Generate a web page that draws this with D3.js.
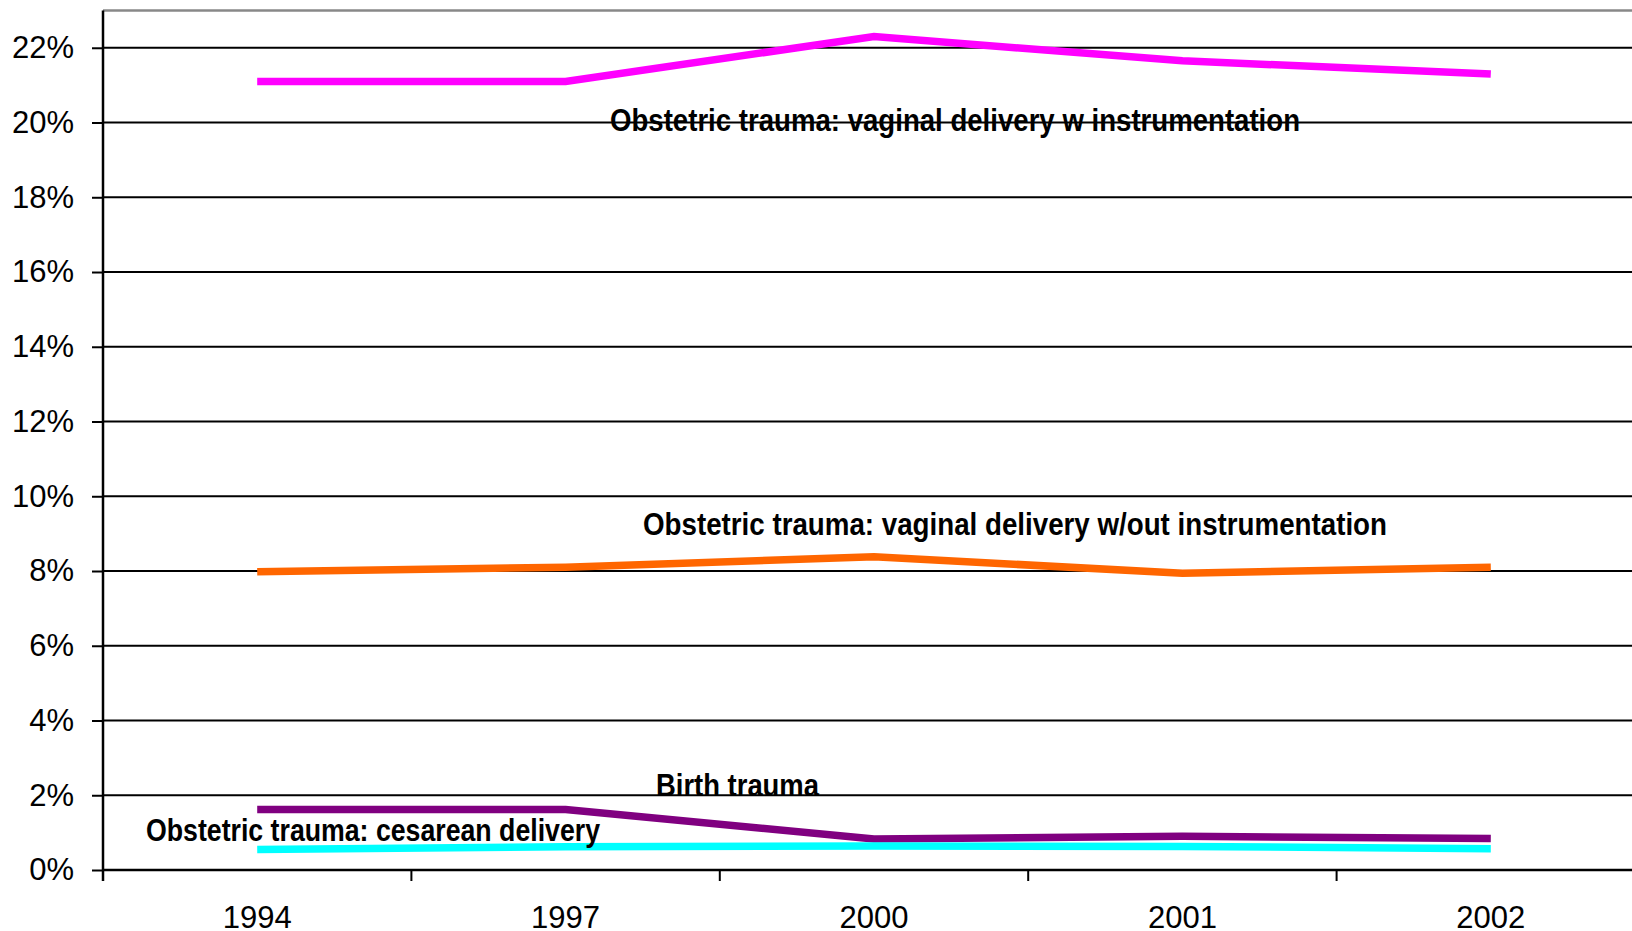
<!DOCTYPE html>
<html>
<head>
<meta charset="utf-8">
<script src="https://cdn.jsdelivr.net/npm/d3@7"></script>
<style>
  html, body { margin: 0; padding: 0; background: #fff; }
  svg { display: block; }
</style>
</head>
<body>
<script>
// Years on the category axis
const years = ["1994", "1997", "2000", "2001", "2002"];

// Rates (%) per series
const vaginalWithInstr = [21.1, 21.1, 22.3, 21.65, 21.3];
const vaginalWithoutInstr = [7.98, 8.1, 8.38, 7.94, 8.1];
const birthTrauma = [1.62, 1.62, 0.83, 0.90, 0.84];
const cesarean = [0.55, 0.62, 0.64, 0.63, 0.57];

// Y tick values (%)
const yTicks = [0, 2, 4, 6, 8, 10, 12, 14, 16, 18, 20, 22];

// Series names as labelled on the chart
const seriesNames = [
  "Obstetric trauma: vaginal delivery w instrumentation",
  "Obstetric trauma: vaginal delivery w/out instrumentation",
  "Birth trauma",
  "Obstetric trauma: cesarean delivery"
];
const seriesColors = ["#ff00ff", "#ff6600", "#800080", "#00ffff"];

const W = 1632, H = 931;
const plotLeft = 103, plotTop = 10.4, plotBottom = 870;
const band = 308.4;

const svg = d3.select("body").append("svg")
  .attr("width", W).attr("height", H)
  .style("font-family", "'Liberation Sans', Arial, sans-serif");

const x = d3.scaleBand().domain(years).range([plotLeft, plotLeft + band * years.length]).padding(0);
const y = d3.scaleLinear().domain([0, 23]).range([plotBottom, plotTop]);
const cx = d => x(d) + x.bandwidth() / 2;

// Horizontal gridlines
svg.append("g").selectAll("line")
  .data(yTicks.filter(t => t > 0))
  .join("line")
  .attr("x1", plotLeft).attr("x2", x.range()[1])
  .attr("y1", d => y(d)).attr("y2", d => y(d))
  .attr("stroke", "#000").attr("stroke-width", 2);

// Plot-area top border
svg.append("line")
  .attr("x1", plotLeft).attr("x2", x.range()[1])
  .attr("y1", y(23)).attr("y2", y(23))
  .attr("stroke", "#888").attr("stroke-width", 2.5);

// Y axis
const yAxis = d3.axisLeft(y).tickValues(yTicks)
  .tickFormat(d => d + "%").tickSize(11).tickPadding(18);
const gy = svg.append("g").attr("transform", `translate(${plotLeft},0)`).call(yAxis);
gy.select(".domain").remove();
gy.selectAll(".tick line").attr("stroke", "#000").attr("stroke-width", 2);
gy.selectAll(".tick text")
  .attr("fill", "#000").attr("font-size", 31)
  .attr("font-family", "'Liberation Sans', Arial, sans-serif");
svg.append("line")
  .attr("x1", plotLeft).attr("x2", plotLeft)
  .attr("y1", y(23)).attr("y2", plotBottom + 11)
  .attr("stroke", "#000").attr("stroke-width", 2.5);

// X axis line with tick marks at category boundaries
svg.append("line")
  .attr("x1", plotLeft).attr("x2", x.range()[1])
  .attr("y1", plotBottom).attr("y2", plotBottom)
  .attr("stroke", "#000").attr("stroke-width", 2.5);
svg.append("g").selectAll("line")
  .data(years.slice(1))
  .join("line")
  .attr("x1", d => x(d)).attr("x2", d => x(d))
  .attr("y1", plotBottom).attr("y2", plotBottom + 11)
  .attr("stroke", "#000").attr("stroke-width", 2);
svg.append("g").selectAll("text")
  .data(years)
  .join("text")
  .attr("x", d => cx(d)).attr("y", 928)
  .attr("text-anchor", "middle")
  .attr("font-size", 31).attr("fill", "#000")
  .text(d => d);

// Series lines
const allSeries = [vaginalWithInstr, vaginalWithoutInstr, birthTrauma, cesarean];
const line = d3.line().x((d, i) => cx(years[i])).y(d => y(d));
svg.append("g").selectAll("path")
  .data(allSeries)
  .join("path")
  .attr("d", d => line(d))
  .attr("fill", "none")
  .attr("stroke", (d, i) => seriesColors[i])
  .attr("stroke-width", 7.5)
  .attr("stroke-linejoin", "miter")
  .attr("stroke-linecap", "butt");

// Series labels: left x (px), baseline in data units, rendered width (px)
const labelSpots = [
  { x0: 610, v: y.invert(131), w: 690 },
  { x0: 643, v: y.invert(535), w: 744 },
  { x0: 656, v: y.invert(796), w: 163 },
  { x0: 146, v: y.invert(841), w: 454 }
];
svg.append("g").selectAll("text")
  .data(seriesNames)
  .join("text")
  .attr("x", (d, i) => labelSpots[i].x0)
  .attr("y", (d, i) => y(labelSpots[i].v))
  .attr("font-family", "'Liberation Sans Narrow', 'Arial Narrow', 'Liberation Sans', Arial, sans-serif")
  .attr("font-weight", "bold")
  .attr("font-size", 31)
  .attr("fill", "#000")
  .attr("textLength", (d, i) => labelSpots[i].w)
  .attr("lengthAdjust", "spacingAndGlyphs")
  .text(d => d);
</script>
</body>
</html>
